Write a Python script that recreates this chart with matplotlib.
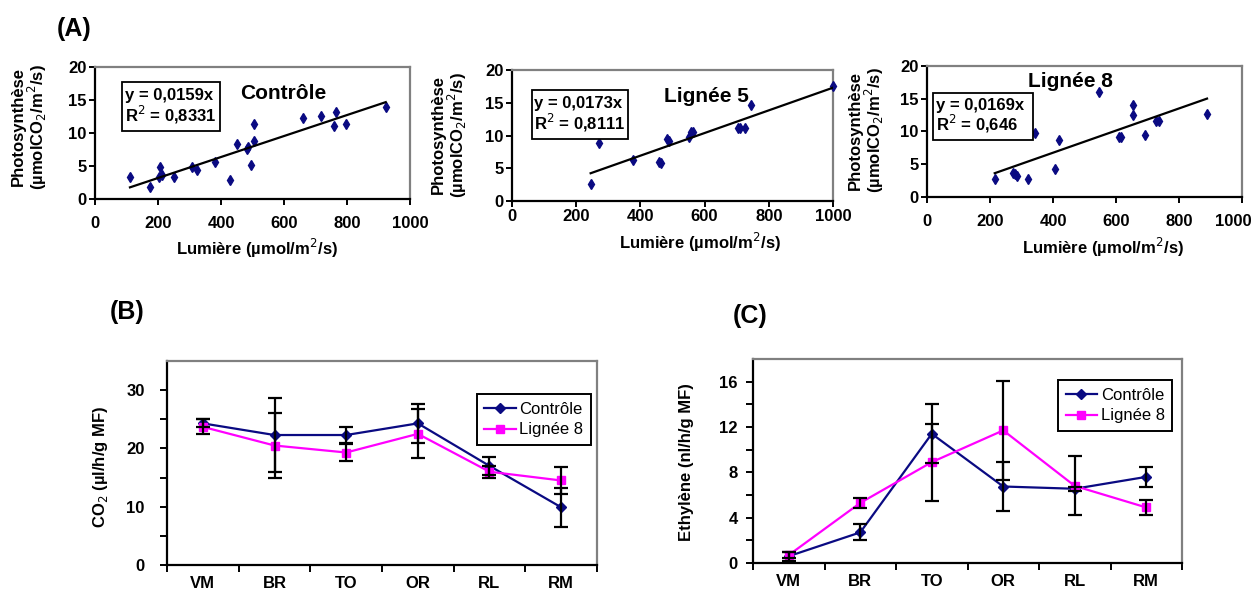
import matplotlib
matplotlib.use('Agg')
import matplotlib.pyplot as plt
from matplotlib.patches import Rectangle
from matplotlib.transforms import ScaledTranslation

plt.rcParams['font.family'] = ['Liberation Sans', 'DejaVu Sans']

W, H = 1255, 591

# (A) photosynthesis vs light
ctrl_light = [111, 175, 202, 206, 214, 251, 307, 323, 381, 429, 452, 481, 487, 494, 505, 505,
              659, 717, 760, 765, 796, 923]
ctrl_photo = [3.3, 1.8, 3.3, 4.8, 3.6, 3.3, 4.8, 4.4, 5.6, 2.9, 8.4, 7.6, 7.9, 5.1, 8.8, 11.4,
              12.3, 12.6, 11.1, 13.2, 11.4, 13.9]
l5_light = [245, 271, 377, 458, 463, 484, 490, 552, 559, 565, 703, 710, 727, 745, 1000]
l5_photo = [2.6, 8.9, 6.3, 5.9, 5.8, 9.4, 9.2, 9.7, 10.5, 10.5, 11.2, 11.2, 11.2, 14.6, 17.6]
l8_light = [215, 272, 278, 285, 320, 342, 405, 418, 545, 610, 616, 653, 653, 691, 728, 735, 889]
l8_photo = [2.7, 3.6, 3.5, 3.2, 2.7, 9.7, 4.2, 8.7, 16.0, 9.2, 9.2, 14.1, 12.5, 9.4, 11.6, 11.6, 12.6]
slopes = [0.0159, 0.0173, 0.0169]
r2_text = ['0,8331', '0,8111', '0,646']
slope_text = ['0,0159', '0,0173', '0,0169']
scatter_titles = ['Contrôle', 'Lignée 5', 'Lignée 8']

# (B) CO2 and (C) ethylene by stage
stages = ['VM', 'BR', 'TO', 'OR', 'RL', 'RM']
co2_ctrl = [24.3, 22.3, 22.3, 24.3, 17.0, 9.9]
co2_ctrl_err = [0.7, 6.4, 1.3, 3.4, 1.5, 3.3]
co2_l8 = [23.7, 20.5, 19.3, 22.5, 16.0, 14.5]
co2_l8_err = [1.3, 5.5, 1.5, 4.2, 1.0, 2.3]
eth_ctrl = [0.6, 2.7, 11.4, 6.75, 6.55, 7.6]
eth_ctrl_err = [0.4, 0.7, 2.6, 2.2, 0.2, 0.9]
eth_l8 = [0.7, 5.3, 8.9, 11.7, 6.8, 4.9]
eth_l8_err = [0.3, 0.45, 3.4, 4.4, 2.6, 0.7]

NAVY = '#0A0A82'
MAGENTA = '#FF00FF'
GRAY = '#808080'

fig = plt.figure(figsize=(W / 100, H / 100), dpi=100)


def px_axes(l, t, r, b):
    return fig.add_axes([l / W, 1 - b / H, (r - l) / W, (b - t) / H])


def style_frame(ax):
    for s in ['left', 'bottom']:
        ax.spines[s].set_color('black')
        ax.spines[s].set_linewidth(1.6)
    for s in ['top', 'right']:
        ax.spines[s].set_color(GRAY)
        ax.spines[s].set_linewidth(1.6)


def fig_text(x, y, s, **kw):
    fig.text(x / W, 1 - y / H, s, ha='center', va='center', fontweight='bold', **kw)


# ---- panel A ----
a_boxes = [(95, 67, 410, 199), (512, 70, 833, 201), (927, 66, 1242, 197)]
eq_boxes = [(0.086, 0.397, 0.515, 0.886), (0.062, 0.361, 0.473, 0.847), (0.019, 0.337, 0.435, 0.794)]
title_pos = [(0.597, 0.803), (0.607, 0.794), (0.454, 0.878)]
ylab_pos = [(30, 127), (450, 135), (867, 130)]
xlab_pos = [(257, 248), (700, 242), (1103, 247)]
xtick_pad = [8, 1.5, 8]
datasets = [(ctrl_light, ctrl_photo), (l5_light, l5_photo), (l8_light, l8_photo)]

for i, (box, (xs, ys)) in enumerate(zip(a_boxes, datasets)):
    ax = px_axes(*box)
    ax.plot(xs, ys, linestyle='none', marker='d', markersize=5.5, color=NAVY,
            clip_on=False, zorder=3)
    xfit = [min(xs), max(xs)]
    ax.plot(xfit, [slopes[i] * v for v in xfit], color='black', lw=1.6, zorder=4)
    ax.set_xlim(0, 1000)
    ax.set_ylim(0, 20)
    ax.set_xticks(range(0, 1001, 200))
    ax.set_yticks(range(0, 21, 5))
    ax.tick_params(direction='out', length=4, width=1.4, labelsize=12)
    ax.tick_params(axis='x', pad=xtick_pad[i])
    ax.tick_params(axis='y', pad=2)
    for lab in ax.get_xticklabels() + ax.get_yticklabels():
        lab.set_fontweight('bold')
    style_frame(ax)
    if i == 2:
        # keep "1000" inside the figure, as in the original
        last = ax.get_xticklabels()[-1]
        last.set_transform(last.get_transform() + ScaledTranslation(-0.09, 0, fig.dpi_scale_trans))

    x0, x1, y0, y1 = eq_boxes[i]
    ax.add_patch(Rectangle((x0, y0), x1 - x0, y1 - y0, transform=ax.transAxes,
                           facecolor='white', edgecolor='black', lw=1.3, zorder=5))
    ax.text(x0 + 0.008, (y0 + y1) / 2,
            f'y = {slope_text[i]}x\nR$^2$ = {r2_text[i]}',
            transform=ax.transAxes, ha='left', va='center', fontsize=12,
            fontweight='bold', linespacing=1.05, zorder=6)
    ax.text(*title_pos[i], scatter_titles[i], transform=ax.transAxes, ha='center',
            va='center', fontsize=15, fontweight='bold', zorder=6)

    fig_text(*ylab_pos[i], 'Photosynthèse\n(µmolCO$_2$/m$^2$/s)', rotation=90,
             fontsize=12, linespacing=1.0)
    fig_text(*xlab_pos[i], 'Lumière (µmol/m$^2$/s)', fontsize=12)


# ---- panels B and C ----
def stage_panel(box, ctrl, ctrl_err, l8, l8_err, ymax, major, minor, ypad, leg_anchor):
    ax = px_axes(*box)
    xs = list(range(len(stages)))
    ax.plot(xs, ctrl, color=NAVY, lw=1.6, marker='D', markersize=5, label='Contrôle', zorder=3)
    ax.plot(xs, l8, color=MAGENTA, lw=1.6, marker='s', markersize=6, label='Lignée 8', zorder=3)
    ax.errorbar(xs, ctrl, yerr=ctrl_err, fmt='none', ecolor='black', elinewidth=1.6,
                capsize=5, capthick=1.6, zorder=4)
    ax.errorbar(xs, l8, yerr=l8_err, fmt='none', ecolor='black', elinewidth=1.6,
                capsize=5, capthick=1.6, zorder=4)
    ax.set_xlim(-0.5, len(stages) - 0.5)
    ax.set_ylim(0, ymax)
    ax.set_xticks(xs)
    ax.set_xticklabels(stages)
    ax.set_xticks([v - 0.5 for v in range(len(stages) + 1)], minor=True)
    ax.tick_params(axis='x', which='major', length=0, pad=8, labelsize=12)
    ax.tick_params(axis='x', which='minor', direction='out', length=5, width=1.4)
    ax.set_yticks(major)
    ax.set_yticks(minor, minor=True)
    ax.tick_params(axis='y', which='minor', direction='out', length=5, width=1.4)
    ax.tick_params(axis='y', which='major', direction='out', length=5, width=1.4,
                   pad=ypad, labelsize=12)
    for lab in ax.get_xticklabels() + ax.get_yticklabels():
        lab.set_fontweight('bold')
    style_frame(ax)
    leg = ax.legend(loc='upper right', bbox_to_anchor=leg_anchor, fontsize=12,
                    frameon=True, fancybox=False, edgecolor='black', framealpha=1,
                    handlelength=1.9, handletextpad=0.2, borderpad=0.45,
                    labelspacing=0.35, borderaxespad=0)
    leg.get_frame().set_linewidth(1.4)
    return ax


stage_panel((167, 361, 597, 565), co2_ctrl, co2_ctrl_err, co2_l8, co2_l8_err,
            35, [0, 10, 20, 30], [5, 15, 25], 11, (0.986, 0.838))
fig_text(100, 467, 'CO$_2$ (µl/h/g MF)', rotation=90, fontsize=12)

stage_panel((753, 359, 1182, 563), eth_ctrl, eth_ctrl_err, eth_l8, eth_l8_err,
            18, [0, 4, 8, 12, 16], [2, 6, 10, 14], 6, (0.977, 0.897))
fig_text(687, 462, 'Ethylène (nl/h/g MF)', rotation=90, fontsize=12)

fig_text(74, 29, '(A)', fontsize=18)
fig_text(127, 312, '(B)', fontsize=18)
fig_text(750, 316, '(C)', fontsize=18)

fig.savefig('out.png', dpi=100)
plt.close(fig)
